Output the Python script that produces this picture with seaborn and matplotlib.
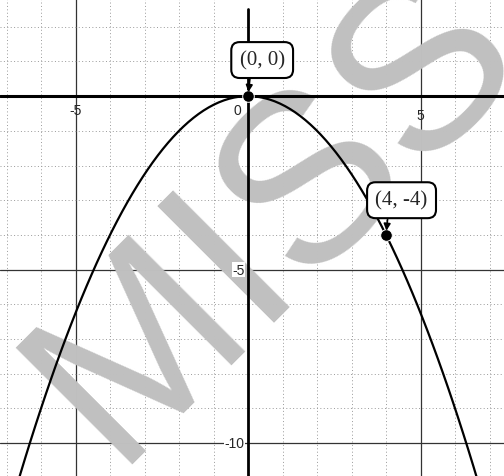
"""Parabola y = -x^2/4 on a grid, with two labelled points"""
import numpy as np
import matplotlib
matplotlib.use("Agg")
import matplotlib.pyplot as plt
import seaborn as sns

# values
curve_x = [-7, -6, -5, -4, -3, -2, -1, 0, 1, 2, 3, 4, 5, 6, 7]
curve_y = [-12.25, -9, -6.25, -4, -2.25, -1, -0.25, 0, -0.25, -1, -2.25, -4, -6.25, -9, -12.25]
point_x = [0, 4]
point_y = [0, -4]
point_labels = ["(0, 0)", "(4, -4)"]
x_ticks = [-5, 0, 5]
x_tick_labels = ["-5", "0", "5"]
y_ticks = [-5, -10]
y_tick_labels = ["-5", "-10"]
watermark = "MISS"

sns.set_style("white")
plt.rcParams["font.family"] = ["Liberation Sans", "DejaVu Sans"]

fig = plt.figure(figsize=(5.04, 4.77), dpi=100)
ax = fig.add_axes([0, 0, 1, 1])
ax.set_xlim(-7.19, 7.42)
ax.set_ylim(-10.95, 2.8)
ax.set_axis_off()

# grid: dotted every unit, solid every five
major = dict(color="#333333", lw=0.9, ls="-")
minor = dict(color="#999999", lw=0.7, ls=(0, (1, 2.5)))
for v in range(-7, 8):
    if v != 0:
        ax.axvline(v, zorder=0, **(major if v % 5 == 0 else minor))
for v in range(-10, 3):
    if v != 0:
        ax.axhline(v, zorder=0, **(major if v % 5 == 0 else minor))

# watermark
ax.text(2.07, -4.65, watermark, rotation=45, ha="center", va="baseline",
        fontsize=172, color="#c0c0c0", zorder=1, rotation_mode="anchor")

# axes
ax.axhline(0, color="black", lw=2.2, zorder=2)
ax.axvline(0, ymax=0.98, color="black", lw=2.0, zorder=2)

for t, lab in zip(x_ticks, x_tick_labels):
    dx = -0.3 if t == 0 else 0
    dy = -0.35 if t == 5 else -0.2
    ax.text(t + dx, dy, lab, ha="center", va="top", fontsize=10, zorder=5)
for t, lab in zip(y_ticks, y_tick_labels):
    ax.text(-0.1, t, lab, ha="right", va="center", fontsize=10, zorder=5,
            bbox=dict(fc="white", ec="none", pad=0.5))

# curve fitted by seaborn through the read points
sns.regplot(x=curve_x, y=curve_y, order=2, ci=None, scatter=False, truncate=False,
            line_kws=dict(color="black", lw=1.6, zorder=3), ax=ax)
ax.set_xlim(-7.19, 7.42)
ax.set_ylim(-10.95, 2.8)

sns.scatterplot(x=point_x, y=point_y, color="black", s=70, zorder=4, ax=ax, legend=False)

offsets = [(0.41, 1.04), (0.45, 1.0)]
relpos = [(0.25, 0.0), (0.25, 0.0)]
for px, py, lab, (ox, oy), rp in zip(point_x, point_y, point_labels, offsets, relpos):
    ax.annotate(lab, xy=(px, py), xytext=(px + ox, py + oy), ha="center", va="center",
                fontsize=15, family=["Liberation Serif", "DejaVu Serif"], zorder=6,
                bbox=dict(boxstyle="round,pad=0.4", fc="white", ec="black", lw=1.5),
                arrowprops=dict(arrowstyle="-|>", color="black", lw=1.2, shrinkA=0, shrinkB=3,
                                mutation_scale=10, relpos=rp))

fig.savefig("out.png", dpi=100)
